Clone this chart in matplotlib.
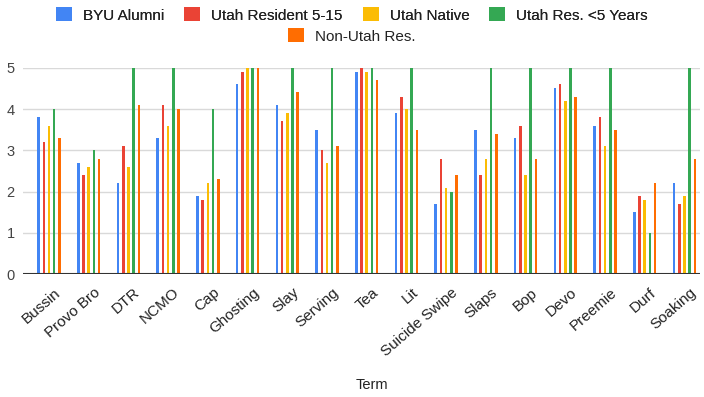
import numpy as np
import matplotlib.pyplot as plt
from matplotlib.transforms import ScaledTranslation

# Puntuaciones medias por término y grupo de encuestados
terminos = ["Bussin", "Provo Bro", "DTR", "NCMO", "Cap", "Ghosting", "Slay",
            "Serving", "Tea", "Lit", "Suicide Swipe", "Slaps", "Bop", "Devo",
            "Preemie", "Durf", "Soaking"]

byu_alumni    = [3.8, 2.7, 2.2, 3.3, 1.9, 4.6, 4.1, 3.5, 4.9, 3.9, 1.7, 3.5, 3.3, 4.5, 3.6, 1.5, 2.2]
utah_res_5_15 = [3.2, 2.4, 3.1, 4.1, 1.8, 4.9, 3.7, 3.0, 5.0, 4.3, 2.8, 2.4, 3.6, 4.6, 3.8, 1.9, 1.7]
utah_native   = [3.6, 2.6, 2.6, 3.6, 2.2, 5.0, 3.9, 2.7, 4.9, 4.0, 2.1, 2.8, 2.4, 4.2, 3.1, 1.8, 1.9]
utah_res_lt5  = [4.0, 3.0, 5.0, 5.0, 4.0, 5.0, 5.0, 5.0, 5.0, 5.0, 2.0, 5.0, 5.0, 5.0, 5.0, 1.0, 5.0]
non_utah      = [3.3, 2.8, 4.1, 4.0, 2.3, 5.0, 4.4, 3.1, 4.7, 3.5, 2.4, 3.4, 2.8, 4.3, 3.5, 2.2, 2.8]

series = [
    ("BYU Alumni", byu_alumni, "#4285F4"),
    ("Utah Resident 5-15", utah_res_5_15, "#EA4335"),
    ("Utah Native", utah_native, "#FBBC04"),
    ("Utah Res. <5 Years", utah_res_lt5, "#34A853"),
    ("Non-Utah Res.", non_utah, "#FF6D01"),
]

plt.rcParams["font.family"] = ["Liberation Sans", "DejaVu Sans"]

fig = plt.figure(figsize=(7.04, 3.97), dpi=100)
ax = fig.add_axes([0.0327, 0.309, 0.9613, 0.5205])

x = np.arange(len(terminos))
paso = 0.131
ancho = 0.065
barras = []
for i, (nombre, valores, color) in enumerate(series):
    b = ax.bar(x + (i - 2) * paso, valores, width=ancho, color=color, label=nombre, zorder=3)
    barras.append(b)

ax.set_xlim(-0.654, 16.386)
ax.set_ylim(0, 5)
ax.set_yticks(range(6))
ax.grid(axis="y", color="#d9d9d9", linewidth=1, zorder=0)
ax.axhline(0, color="#333333", linewidth=1.5, zorder=4)
for s in ax.spines.values():
    s.set_visible(False)
ax.tick_params(axis="y", length=0, pad=6, labelsize=10.5, labelcolor="#444444")
ax.tick_params(axis="x", length=0, pad=8)
ax.set_xticks(x)
ax.set_xticklabels(terminos, rotation=41, ha="right", va="top",
                   rotation_mode="anchor", fontsize=11, color="#222222")
desplaza = ScaledTranslation(0.05, 0, fig.dpi_scale_trans)
for lbl in ax.get_xticklabels():
    lbl.set_transform(lbl.get_transform() + desplaza)

fig.text(372 / 704, 1 - 385 / 397, "Term", ha="center", va="center", fontsize=10.5, color="#222222")

# Leyenda en dos filas centradas
estilo = dict(frameon=False, fontsize=11, handlelength=1.05, handleheight=1.0,
              handletextpad=0.72, columnspacing=1.3, labelcolor="#222222")
leg1 = fig.legend(barras[:4], [s[0] for s in series[:4]], ncol=4,
                  loc="center", bbox_to_anchor=(0.5, 1 - 15 / 397), **estilo)
fig.add_artist(leg1)
fig.legend(barras[4:], [series[4][0]], ncol=1,
           loc="center", bbox_to_anchor=(0.5, 1 - 36 / 397), **estilo)

fig.savefig("out.png", dpi=100)
